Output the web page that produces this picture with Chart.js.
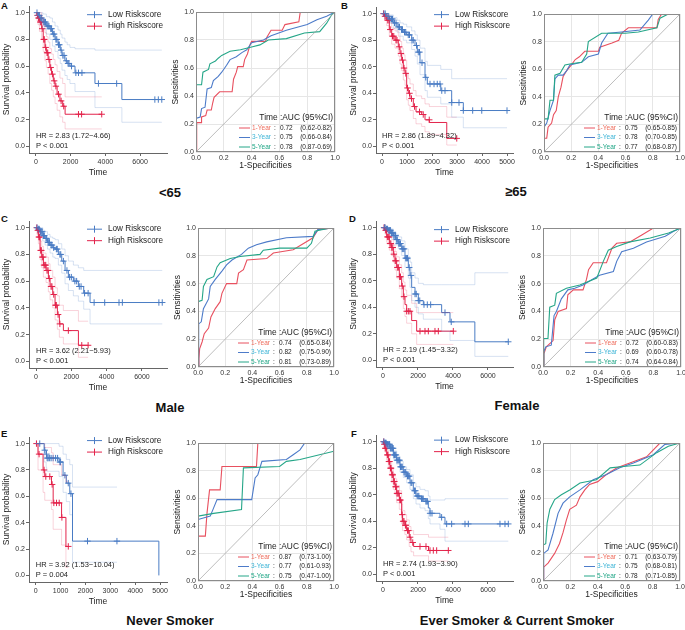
<!DOCTYPE html>
<html>
<head>
<meta charset="utf-8">
<script src="https://cdn.jsdelivr.net/npm/chart.js@4.4.1/dist/chart.umd.min.js"></script>
<style>
html, body { margin: 0; padding: 0; overflow: hidden; }
body { width: 685px; height: 630px; position: relative; background: #fff; font-family: "Liberation Sans", Arial, sans-serif; }
canvas { position: absolute; }
.tag { position: absolute; font-weight: bold; font-size: 9.5px; color: #111; }
.ttl { position: absolute; font-weight: bold; font-size: 13px; color: #111; transform: translate(-50%, -50%); white-space: nowrap; }
</style>
</head>
<body>
<div class="tag" style="left:1px;top:0px">A</div>
<div class="tag" style="left:341px;top:0px">B</div>
<div class="tag" style="left:1px;top:213px">C</div>
<div class="tag" style="left:349px;top:213px">D</div>
<div class="tag" style="left:1px;top:428px">E</div>
<div class="tag" style="left:351px;top:428px">F</div>
<div class="ttl" style="left:170px;top:192px">&lt;65</div>
<div class="ttl" style="left:516px;top:191px">≥65</div>
<div class="ttl" style="left:170px;top:407px">Male</div>
<div class="ttl" style="left:517px;top:405px">Female</div>
<div class="ttl" style="left:170px;top:620px">Never Smoker</div>
<div class="ttl" style="left:517px;top:620px">Ever Smoker &amp; Current Smoker</div>

<script>
// KM rows: [time, survival, lower CI, upper CI]
const A_low = [[0,1,1,1],[100,0.98,0.96,1],[230,0.96,0.92,1],[400,0.93,0.88,0.99],[600,0.90,0.84,0.97],[800,0.88,0.80,0.96],[950,0.84,0.75,0.93],[1100,0.80,0.71,0.90],[1270,0.76,0.66,0.87],[1400,0.72,0.62,0.84],[1500,0.68,0.57,0.81],[1670,0.64,0.53,0.78],[1800,0.62,0.50,0.76],[1960,0.60,0.47,0.74],[2250,0.55,0.41,0.73],[3400,0.47,0.29,0.72],[4950,0.35,0.18,0.72],[7250,0.35,0.18,0.72]];
const A_lowCens = [60,150,200,280,330,450,500,550,650,700,750,850,900,1000,1050,1150,1200,1300,1350,1450,1550,1620,1750,1850,1900,2050,2300,2450,2650,3600,4650,6850,7050,7250];
const A_high = [[0,1,1,1],[60,0.98,0.94,1],[120,0.96,0.91,1],[200,0.93,0.86,1],[330,0.88,0.80,0.96],[420,0.80,0.71,0.90],[520,0.74,0.64,0.85],[600,0.70,0.59,0.82],[700,0.65,0.54,0.78],[800,0.59,0.47,0.73],[900,0.54,0.42,0.69],[1000,0.49,0.37,0.65],[1100,0.45,0.32,0.61],[1220,0.39,0.27,0.56],[1380,0.34,0.22,0.51],[1540,0.30,0.18,0.47],[1680,0.24,0.13,0.37],[3790,0.24,0.13,0.37]];
const A_highCens = [90,150,180,250,290,360,450,480,560,640,680,750,850,950,1050,1150,1300,1450,1600,2450,2630,3790];

const B_low = [[0,1,1,1],[150,0.98,0.96,1],[300,0.96,0.93,0.99],[453,0.93,0.89,0.97],[600,0.90,0.86,0.95],[720,0.88,0.83,0.93],[850,0.86,0.80,0.92],[987,0.84,0.78,0.90],[1187,0.80,0.73,0.87],[1320,0.76,0.68,0.84],[1413,0.71,0.62,0.80],[1520,0.63,0.54,0.74],[1720,0.52,0.42,0.64],[1813,0.47,0.37,0.61],[2350,0.42,0.32,0.58],[2787,0.33,0.22,0.51],[3253,0.27,0.14,0.51],[5000,0.27,0.14,0.51]];
const B_lowCens = [80,130,200,250,320,380,420,500,560,650,700,780,820,900,950,1050,1100,1200,1250,1380,1450,1500,1600,1750,1920,2080,2210,2320,2390,2520,2790,3080,3253,3627,3990,5000];
const B_high = [[0,1,1,1],[100,0.98,0.95,1],[187,0.95,0.91,0.99],[293,0.88,0.83,0.93],[387,0.83,0.77,0.89],[520,0.80,0.74,0.87],[653,0.75,0.68,0.83],[720,0.70,0.62,0.79],[787,0.65,0.57,0.74],[853,0.59,0.50,0.69],[920,0.55,0.46,0.65],[987,0.44,0.35,0.55],[1053,0.40,0.31,0.51],[1120,0.36,0.27,0.47],[1253,0.30,0.21,0.42],[1360,0.26,0.17,0.38],[1587,0.24,0.15,0.36],[1720,0.20,0.11,0.32],[1893,0.18,0.09,0.30],[2590,0.06,0.01,0.22],[2990,0.06,0.01,0.22]];
const B_highCens = [60,120,160,230,280,330,420,470,560,600,690,760,820,880,950,1020,1100,1180,1300,1500,1650,1890,2990];

const C_low = [[0,1,1,1],[100,0.99,0.97,1],[227,0.97,0.94,1],[380,0.94,0.90,0.98],[510,0.92,0.87,0.97],[650,0.89,0.84,0.95],[793,0.87,0.81,0.93],[950,0.85,0.78,0.92],[1076,0.84,0.77,0.91],[1265,0.80,0.72,0.88],[1455,0.75,0.66,0.84],[1643,0.68,0.58,0.79],[1832,0.63,0.53,0.75],[2115,0.60,0.49,0.72],[2398,0.56,0.45,0.70],[2700,0.51,0.39,0.68],[3060,0.44,0.28,0.68],[7150,0.44,0.28,0.68]];
const C_lowCens = [60,130,180,250,300,350,420,470,560,600,680,720,760,850,900,1000,1150,1200,1350,1400,1550,1750,1900,2000,2200,2300,2450,2550,2750,2950,3290,3890,4700,4890,6960,7150];
const C_high = [[0,1,1,1],[50,0.98,0.95,1],[132,0.93,0.88,0.98],[227,0.83,0.76,0.90],[321,0.78,0.70,0.86],[415,0.72,0.63,0.81],[566,0.68,0.59,0.78],[698,0.62,0.52,0.73],[793,0.56,0.46,0.68],[944,0.50,0.40,0.63],[1076,0.42,0.31,0.55],[1208,0.35,0.24,0.49],[1321,0.28,0.18,0.42],[1548,0.23,0.13,0.38],[2400,0.12,0.03,0.30],[2950,0.12,0.03,0.30]];
const C_highCens = [40,100,160,200,260,300,350,400,450,500,550,620,680,750,850,900,1000,1100,1150,1250,1350,1830,2590,2950];

const D_low = [[0,1,1,1],[150,0.99,0.98,1],[305,0.98,0.96,1],[450,0.96,0.93,0.99],[590,0.94,0.91,0.97],[730,0.91,0.87,0.95],[876,0.88,0.84,0.93],[1067,0.84,0.79,0.90],[1257,0.77,0.70,0.84],[1448,0.70,0.62,0.78],[1543,0.64,0.55,0.74],[1638,0.55,0.45,0.66],[1829,0.50,0.40,0.62],[2019,0.45,0.35,0.58],[2305,0.42,0.31,0.57],[3352,0.36,0.22,0.57],[3829,0.29,0.15,0.57],[5250,0.14,0.03,0.66],[7160,0.14,0.03,0.66]];
const D_lowCens = [80,120,200,260,330,380,420,480,520,560,620,680,720,780,820,900,950,1000,1100,1150,1200,1300,1350,1400,1500,1600,1830,1900,2020,2100,2343,2533,2724,3543,3900,7160];
const D_high = [[0,1,1,1],[114,0.98,0.95,1],[210,0.93,0.89,0.97],[362,0.88,0.83,0.93],[495,0.85,0.79,0.91],[590,0.80,0.74,0.87],[686,0.75,0.68,0.82],[781,0.70,0.62,0.78],[933,0.63,0.54,0.72],[1067,0.56,0.47,0.66],[1162,0.48,0.39,0.59],[1257,0.42,0.33,0.53],[1352,0.37,0.28,0.49],[1638,0.30,0.20,0.43],[1924,0.22,0.12,0.36],[4019,0.22,0.12,0.36]];
const D_highCens = [60,100,150,200,250,300,350,400,450,500,560,620,700,750,820,880,950,1000,1100,1200,1352,1448,1543,2114,2400,2590,2971,3162,4019];

const E_low = [[0,1,1,1],[340,0.95,0.86,1],[420,0.92,0.82,1],[440,0.89,0.79,1],[940,0.86,0.75,0.98],[1100,0.76,0.63,0.92],[1230,0.70,0.56,0.88],[1370,0.62,0.46,0.84],[1480,0.26,0.10,0.67],[3270,0.26,0.10,0.67],[4953,0,null,null]];
const E_lowCens = [162,364,432,460,500,560,620,700,800,880,972,1000,1174,1309,1417,2083,3267];
const E_high = [[0,1,1,1],[93,0.92,0.80,1],[296,0.80,0.63,1],[364,0.75,0.57,0.97],[634,0.69,0.50,0.93],[702,0.55,0.35,0.84],[1040,0.44,0.23,0.76],[1215,0.22,0.06,0.71],[1310,0.22,0.06,0.71]];
const E_highCens = [30,135,337,405,567,661,729,837,945,1053,1310];

const F_low = [[0,1,1,1],[100,0.99,0.98,1],[210,0.98,0.96,0.99],[400,0.95,0.93,0.97],[590,0.90,0.87,0.93],[780,0.86,0.83,0.89],[970,0.81,0.77,0.85],[1160,0.77,0.73,0.81],[1350,0.74,0.69,0.79],[1543,0.69,0.64,0.75],[1733,0.63,0.57,0.69],[1886,0.59,0.53,0.66],[2114,0.57,0.50,0.64],[2400,0.55,0.48,0.63],[2590,0.50,0.42,0.59],[2686,0.46,0.38,0.56],[3257,0.43,0.34,0.56],[3543,0.38,0.25,0.57],[7162,0.38,0.25,0.57]];
const F_lowCens = [50,100,140,180,220,260,300,350,380,420,460,500,540,580,620,660,700,740,800,850,900,950,1000,1050,1100,1200,1250,1300,1400,1450,1500,1600,1650,1800,1850,1950,2000,2050,2200,2250,2300,2450,2500,2550,2690,2800,3350,3640,3924,4686,4876,6686,6971,7162];
const F_high = [[0,1,1,1],[50,0.98,0.96,1],[114,0.95,0.92,0.98],[210,0.90,0.86,0.94],[305,0.85,0.80,0.89],[400,0.80,0.75,0.85],[495,0.75,0.69,0.80],[590,0.70,0.64,0.76],[686,0.66,0.60,0.72],[781,0.61,0.54,0.67],[933,0.56,0.49,0.63],[1067,0.45,0.38,0.53],[1120,0.40,0.33,0.48],[1250,0.37,0.30,0.45],[1350,0.33,0.26,0.41],[1500,0.28,0.21,0.36],[1600,0.24,0.17,0.33],[1750,0.21,0.14,0.30],[2600,0.18,0.10,0.28],[3733,0.18,0.10,0.28]];
const F_highCens = [40,80,130,170,250,280,340,370,430,460,520,560,620,650,720,750,800,850,900,960,1000,1100,1150,1200,1280,1300,1400,1450,1550,1700,2114,2457,2686,2876,3067,3733];

// ROC points: [1-specificity, sensitivity]
const rocA1 = [[0,0],[0.005,0.21],[0.04,0.21],[0.04,0.25],[0.07,0.26],[0.08,0.30],[0.11,0.30],[0.12,0.35],[0.13,0.39],[0.17,0.43],[0.26,0.43],[0.27,0.52],[0.29,0.57],[0.30,0.61],[0.34,0.61],[0.35,0.66],[0.37,0.70],[0.39,0.77],[0.40,0.79],[0.50,0.79],[0.51,0.82],[0.54,0.87],[0.62,0.87],[0.64,0.91],[0.74,0.93],[0.75,1],[1,1]];
const rocA3 = [[0,0],[0,0.24],[0.03,0.25],[0.04,0.31],[0.065,0.32],[0.08,0.45],[0.11,0.46],[0.125,0.51],[0.16,0.54],[0.185,0.57],[0.22,0.62],[0.245,0.66],[0.29,0.68],[0.33,0.71],[0.365,0.73],[0.40,0.78],[0.485,0.80],[0.54,0.83],[0.65,0.87],[0.80,0.91],[0.87,0.945],[0.94,0.97],[1,1]];
const rocA5 = [[0,0],[0,0.48],[0.04,0.48],[0.05,0.57],[0.09,0.59],[0.10,0.63],[0.14,0.65],[0.16,0.67],[0.185,0.69],[0.245,0.72],[0.32,0.73],[0.40,0.75],[0.46,0.765],[0.52,0.80],[0.65,0.81],[0.78,0.85],[0.89,0.86],[0.94,0.92],[0.976,0.98],[1,1]];
const rocB1 = [[0,0],[0,0.1],[0.02,0.1],[0.03,0.18],[0.056,0.21],[0.07,0.27],[0.09,0.30],[0.105,0.40],[0.125,0.47],[0.14,0.545],[0.167,0.59],[0.2,0.63],[0.23,0.67],[0.26,0.69],[0.30,0.73],[0.40,0.73],[0.41,0.76],[0.50,0.79],[0.55,0.81],[0.57,0.86],[0.62,0.90],[0.83,0.90],[0.84,0.96],[0.865,1],[1,1]];
const rocB3 = [[0,0],[0,0.18],[0.02,0.21],[0.044,0.30],[0.07,0.375],[0.08,0.53],[0.105,0.557],[0.14,0.557],[0.167,0.59],[0.19,0.63],[0.277,0.65],[0.326,0.69],[0.40,0.71],[0.424,0.79],[0.47,0.86],[0.57,0.87],[0.705,0.884],[0.767,0.956],[0.80,1],[1,1]];
const rocB5 = [[0,0],[0,0.24],[0.03,0.24],[0.044,0.375],[0.07,0.375],[0.08,0.557],[0.118,0.57],[0.154,0.63],[0.2,0.64],[0.277,0.65],[0.314,0.71],[0.326,0.80],[0.424,0.86],[0.596,0.86],[0.694,0.87],[0.83,0.90],[0.853,0.97],[0.914,1],[1,1]];
const rocC1 = [[0,0],[0.007,0.06],[0.012,0.13],[0.03,0.18],[0.046,0.24],[0.078,0.28],[0.095,0.36],[0.127,0.42],[0.163,0.47],[0.176,0.53],[0.21,0.60],[0.285,0.60],[0.298,0.675],[0.334,0.70],[0.36,0.77],[0.505,0.78],[0.554,0.82],[0.70,0.843],[0.846,0.93],[0.883,0.99],[1,1]];
const rocC3 = [[0,0],[0.005,0.31],[0.024,0.325],[0.04,0.42],[0.078,0.49],[0.09,0.58],[0.127,0.63],[0.176,0.69],[0.21,0.735],[0.25,0.77],[0.32,0.81],[0.37,0.855],[0.43,0.88],[0.505,0.90],[0.65,0.93],[0.846,0.94],[0.883,0.99],[1,1]];
const rocC5 = [[0,0],[0,0.47],[0.03,0.48],[0.04,0.58],[0.066,0.63],[0.115,0.65],[0.14,0.72],[0.163,0.75],[0.237,0.78],[0.31,0.795],[0.456,0.81],[0.48,0.84],[0.60,0.855],[0.80,0.855],[0.834,0.89],[0.86,0.976],[0.97,1],[1,1]];
const rocD1 = [[0,0],[0.007,0.096],[0.024,0.145],[0.073,0.19],[0.085,0.34],[0.11,0.40],[0.17,0.42],[0.18,0.52],[0.22,0.555],[0.29,0.555],[0.315,0.63],[0.33,0.70],[0.364,0.75],[0.46,0.75],[0.50,0.855],[0.534,0.89],[0.63,0.90],[0.716,0.95],[0.80,1],[1,1]];
const rocD3 = [[0,0],[0.005,0.11],[0.02,0.145],[0.06,0.157],[0.08,0.37],[0.097,0.40],[0.133,0.49],[0.18,0.555],[0.23,0.566],[0.29,0.59],[0.35,0.626],[0.41,0.66],[0.51,0.687],[0.534,0.76],[0.57,0.83],[0.655,0.855],[0.75,0.90],[0.886,0.94],[0.947,0.976],[1,1]];
const rocD5 = [[0,0],[0.005,0.205],[0.036,0.205],[0.049,0.43],[0.085,0.445],[0.097,0.53],[0.17,0.566],[0.267,0.59],[0.39,0.64],[0.437,0.76],[0.473,0.84],[0.534,0.867],[0.63,0.90],[0.777,0.928],[0.91,0.964],[1,1]];
const rocE1 = [[0,0],[0,0.325],[0.054,0.325],[0.066,0.49],[0.085,0.66],[0.163,0.66],[0.176,0.83],[0.43,0.83],[0.44,1],[1,1]];
const rocE3 = [[0,0],[0,0.445],[0.09,0.47],[0.115,0.53],[0.14,0.59],[0.395,0.59],[0.42,0.747],[0.44,0.77],[0.47,0.867],[0.65,0.88],[0.70,0.915],[0.75,0.95],[0.785,1],[1,1]];
const rocE5 = [[0,0],[0,0.47],[0.115,0.49],[0.32,0.518],[0.334,0.82],[0.60,0.83],[0.65,0.867],[0.75,0.88],[1,0.94],[1,1]];
const rocF1 = [[0,0],[0.005,0.10],[0.037,0.13],[0.085,0.20],[0.12,0.27],[0.146,0.35],[0.17,0.44],[0.195,0.52],[0.244,0.55],[0.27,0.61],[0.305,0.66],[0.34,0.70],[0.40,0.72],[0.46,0.77],[0.54,0.82],[0.634,0.855],[0.756,0.90],[0.854,1],[1,1]];
const rocF3 = [[0,0],[0.005,0.20],[0.037,0.225],[0.073,0.346],[0.11,0.49],[0.146,0.564],[0.195,0.61],[0.27,0.66],[0.366,0.734],[0.46,0.77],[0.56,0.82],[0.66,0.855],[0.805,0.915],[0.89,0.99],[1,1]];
const rocF5 = [[0,0],[0,0.26],[0.02,0.27],[0.03,0.42],[0.05,0.52],[0.085,0.59],[0.134,0.625],[0.195,0.66],[0.27,0.71],[0.39,0.734],[0.49,0.82],[0.585,0.83],[0.707,0.84],[0.83,0.93],[0.915,0.976],[1,1]];

const yearLabels = ['1-Year', '3-Year', '5-Year'];
const aucA = ['0.72', '0.75', '0.78'], ciA = ['(0.62-0.82)', '(0.66-0.84)', '(0.87-0.69)'];
const aucB = ['0.75', '0.78', '0.77'], ciB = ['(0.65-0.85)', '(0.70-0.85)', '(0.68-0.87)'];
const aucC = ['0.74', '0.82', '0.81'], ciC = ['(0.65-0.84)', '(0.75-0.90)', '(0.73-0.89)'];
const aucD = ['0.72', '0.69', '0.74'], ciD = ['(0.60-0.83)', '(0.60-0.78)', '(0.64-0.84)'];
const aucE = ['0.87', '0.77', '0.75'], ciE = ['(0.73-1.00)', '(0.61-0.93)', '(0.47-1.00)'];
const aucF = ['0.71', '0.75', '0.78'], ciF = ['(0.63-0.79)', '(0.68-0.81)', '(0.71-0.85)'];

const survTicks = [0, 0.2, 0.4, 0.6, 0.8, 1.0];
const rocTicks = [0, 0.2, 0.4, 0.6, 0.8, 1.0];
const timeTicks7 = [0, 2000, 4000, 6000];
const timeTicks5 = [0, 1000, 2000, 3000, 4000, 5000];

const BLUE = '#4a7cc4', RED = '#e3234b';
const CI_BLUE = 'rgba(74,124,196,0.28)', CI_RED = 'rgba(227,35,75,0.25)';
const ROC_COL = ['#e8505f', '#4d7bc9', '#25a688'];
const ROC_TXT = ['#ee6b5b', '#3cb4d6', '#1ea585'];
const FONT = '"Liberation Sans", Arial, sans-serif';

Chart.defaults.font.family = FONT;
Chart.defaults.color = '#333';


function makeCanvas(box) {
    const c = document.createElement('canvas');
    const w = box.right - box.left, h = box.bottom - box.top;
    c.width = w;
    c.height = h;
    c.style.left = box.left + 'px';
    c.style.top = box.top + 'px';
    c.style.width = w + 'px';
    c.style.height = h + 'px';
    document.body.appendChild(c);
    return c;
}

function stepData(rows, col) {
    return rows.filter(r => r[col] !== null).map(r => ({ x: r[0], y: r[col] }));
}

function survAt(rows, t) {
    let s = rows[0][1];
    rows.forEach(r => { if (r[0] <= t) s = r[1]; });
    return s;
}

function kmNotes(hrText, pText, legY) {
    return {
        id: 'kmNotes',
        afterDraw(chart) {
            const { ctx, chartArea: a, scales: { x, y } } = chart;
            ctx.save();
            ctx.textBaseline = 'middle';
            ctx.font = '8.2px ' + FONT;
            [['Low Riskscore', BLUE], ['High Riskscore', RED]].forEach(([label, col], i) => {
                const yy = y.getPixelForValue(1) + legY + i * 11.5;
                const xx = a.left + 79;
                ctx.strokeStyle = col;
                ctx.lineWidth = 1;
                ctx.beginPath();
                ctx.moveTo(xx - 21, yy); ctx.lineTo(xx - 6, yy);
                ctx.moveTo(xx - 13.5, yy - 3.5); ctx.lineTo(xx - 13.5, yy + 3.5);
                ctx.stroke();
                ctx.fillStyle = '#222';
                ctx.fillText(label, xx, yy);
            });
            ctx.font = '7.5px ' + FONT;
            const x0 = x.getPixelForValue(0), y0 = y.getPixelForValue(0);
            ctx.fillText(hrText, x0, y0 - 10.5);
            ctx.fillText(pText, x0, y0);
            ctx.restore();
        }
    };
}

function rocNotes(aucs, cis) {
    return {
        id: 'rocNotes',
        afterDraw(chart) {
            const { ctx, chartArea: a } = chart;
            ctx.save();
            ctx.strokeStyle = '#8c8c8c';
            ctx.lineWidth = 1;
            ctx.strokeRect(a.left + 0.5, a.top + 0.5, a.right - a.left - 1, a.bottom - a.top - 1);
            ctx.textBaseline = 'middle';
            ctx.fillStyle = '#222';
            ctx.font = '8.4px ' + FONT;
            ctx.textAlign = 'right';
            ctx.fillText('Time :AUC (95%CI)', a.right - 2, a.bottom - 34);
            ctx.font = '6.5px ' + FONT;
            yearLabels.forEach((lab, i) => {
                const yy = a.bottom - 24 + i * 9.5;
                ctx.strokeStyle = ROC_COL[i];
                ctx.beginPath();
                ctx.moveTo(a.right - 96, yy); ctx.lineTo(a.right - 85, yy);
                ctx.stroke();
                ctx.textAlign = 'left';
                ctx.fillStyle = ROC_TXT[i];
                ctx.fillText(lab, a.right - 83, yy);
                ctx.fillStyle = '#222';
                ctx.fillText(':', a.right - 61, yy);
                ctx.fillText(aucs[i], a.right - 55, yy);
                ctx.textAlign = 'right';
                ctx.fillText(cis[i], a.right - 3, yy);
            });
            ctx.restore();
        }
    };
}

function drawKM(plot, xRange, xTicks, low, lowCens, high, highCens, hrText, pText, legY) {
    const [L, T, R, B] = plot;
    const box = { left: L - 29, top: T - 6, right: R + 12, bottom: B + 27 };
    const line = (data, color, width) => ({
        data, borderColor: color, borderWidth: width, stepped: true, pointRadius: 0, fill: false
    });
    const marks = (rows, times, color) => ({
        data: times.map(t => ({ x: t, y: survAt(rows, t) })),
        showLine: false, pointStyle: 'cross', pointRadius: 3.2,
        pointBorderColor: color, pointBorderWidth: 1, borderColor: color
    });
    new Chart(makeCanvas(box), {
        type: 'line',
        data: {
            datasets: [
                line(stepData(low, 2), CI_BLUE, 0.8), line(stepData(low, 3), CI_BLUE, 0.8),
                line(stepData(high, 2), CI_RED, 0.8), line(stepData(high, 3), CI_RED, 0.8),
                line(stepData(low, 1), BLUE, 1), line(stepData(high, 1), RED, 1),
                marks(low, lowCens, BLUE), marks(high, highCens, RED)
            ]
        },
        options: {
            responsive: false, animation: false, events: [],
            layout: { padding: { left: 0, top: T - box.top, right: box.right - R, bottom: 0 } },
            plugins: { legend: { display: false }, tooltip: { enabled: false } },
            scales: {
                x: {
                    type: 'linear', min: xRange[0], max: xRange[1],
                    afterBuildTicks: s => { s.ticks = xTicks.map(v => ({ value: v })); },
                    afterFit: s => { s.height = box.bottom - B; },
                    ticks: { callback: v => String(v), font: { size: 7 }, padding: 2, maxRotation: 0, autoSkip: false },
                    grid: { drawOnChartArea: false, tickLength: 3, color: '#666' },
                    border: { color: '#666' },
                    title: { display: true, text: 'Time', font: { size: 8.5 }, color: '#222', padding: { top: 0, bottom: 2 } }
                },
                y: {
                    type: 'linear', min: -0.05, max: 1.05,
                    afterBuildTicks: s => { s.ticks = survTicks.map(v => ({ value: v })); },
                    afterFit: s => { s.width = L - box.left; },
                    ticks: { callback: v => v.toFixed(1), font: { size: 7 }, padding: 1, autoSkip: false },
                    grid: { drawOnChartArea: false, tickLength: 3, color: '#666' },
                    border: { color: '#666' },
                    title: { display: true, text: 'Survival probability', font: { size: 8.5 }, color: '#222', padding: { top: 2, bottom: 0 } }
                }
            }
        },
        plugins: [kmNotes(hrText, pText, legY)]
    });
}

function drawROC(plot, c1, c3, c5, aucs, cis) {
    const [L, T, R, B] = plot;
    const box = { left: L - 26, top: T - 12, right: R + 10, bottom: B + 20 };
    const curve = (pts, color) => ({
        data: pts.map(p => ({ x: p[0], y: p[1] })),
        borderColor: color, borderWidth: 1.1, pointRadius: 0, fill: false, tension: 0
    });
    new Chart(makeCanvas(box), {
        type: 'line',
        data: {
            datasets: [
                { data: [{ x: 0, y: 0 }, { x: 1, y: 1 }], borderColor: '#a0a0a0', borderWidth: 0.7, pointRadius: 0 },
                curve(c5, ROC_COL[2]), curve(c3, ROC_COL[1]), curve(c1, ROC_COL[0])
            ]
        },
        options: {
            responsive: false, animation: false, events: [],
            layout: { padding: { left: 0, top: T - box.top, right: box.right - R, bottom: 0 } },
            plugins: { legend: { display: false }, tooltip: { enabled: false } },
            scales: {
                x: {
                    type: 'linear', min: 0, max: 1,
                    afterBuildTicks: s => { s.ticks = rocTicks.map(v => ({ value: v })); },
                    afterFit: s => { s.height = box.bottom - B; },
                    ticks: { callback: v => v.toFixed(1), font: { size: 7 }, padding: 1.5, maxRotation: 0, autoSkip: false },
                    grid: { color: '#e6e6e6', drawTicks: false },
                    border: { display: false },
                    title: { display: true, text: '1-Specificities', font: { size: 8.5 }, color: '#222', padding: { top: 0, bottom: 1 } }
                },
                y: {
                    type: 'linear', min: 0, max: 1,
                    afterBuildTicks: s => { s.ticks = rocTicks.map(v => ({ value: v })); },
                    afterFit: s => { s.width = L - box.left; },
                    ticks: { callback: v => v.toFixed(1), font: { size: 7 }, padding: 2, autoSkip: false },
                    grid: { color: '#e6e6e6', drawTicks: false },
                    border: { display: false },
                    title: { display: true, text: 'Sensitivities', font: { size: 8.5 }, color: '#222', padding: { top: 1, bottom: 0 } }
                }
            }
        },
        plugins: [rocNotes(aucs, cis)]
    });
}

drawKM([29, 6, 167, 153], [-400, 7550], timeTicks7, A_low, A_lowCens, A_high, A_highCens, 'HR = 2.83 (1.72\u22124.66)', 'P < 0.001', 2);
drawKM([376, 7, 513, 153], [-240, 5240], timeTicks5, B_low, B_lowCens, B_high, B_highCens, 'HR = 2.86 (1.89\u22124.32)', 'P < 0.001', 1);
drawKM([29, 221, 167, 368], [-400, 7420], timeTicks7, C_low, C_lowCens, C_high, C_highCens, 'HR = 3.62 (2.21\u22125.93)', 'P < 0.001', 1.5);
drawKM([376, 221, 513, 367], [-400, 7430], timeTicks7, D_low, D_lowCens, D_high, D_highCens, 'HR = 2.19 (1.45\u22123.32)', 'P < 0.001', 2);
drawKM([29, 437, 167, 582], [-270, 5280], timeTicks5, E_low, E_lowCens, E_high, E_highCens, 'HR = 3.92 (1.53\u221210.04)', 'P = 0.004', -3);
drawKM([376, 435, 513, 581], [-400, 7430], timeTicks7, F_low, F_lowCens, F_high, F_highCens, 'HR = 2.74 (1.93\u22123.90)', 'P < 0.001', -1.5);

drawROC([196, 12, 335, 152], rocA1, rocA3, rocA5, aucA, ciA);
drawROC([544, 14, 680, 152], rocB1, rocB3, rocB5, aucB, ciB);
drawROC([198, 228, 334, 367], rocC1, rocC3, rocC5, aucC, ciC);
drawROC([543, 228, 681, 367], rocD1, rocD3, rocD5, aucD, ciD);
drawROC([198, 443, 334, 581], rocE1, rocE3, rocE5, aucE, ciE);
drawROC([543, 443, 680, 581], rocF1, rocF3, rocF5, aucF, ciF);
</script>
</body>
</html>
